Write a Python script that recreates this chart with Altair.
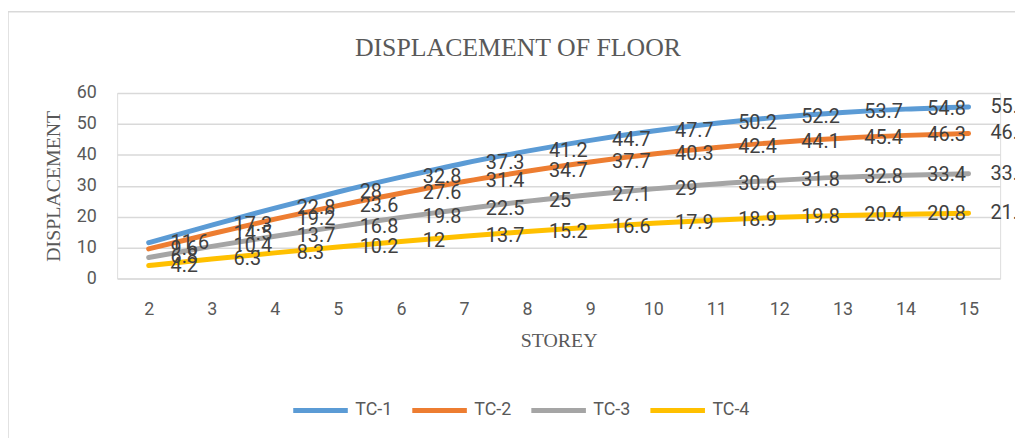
import altair as alt
import pandas as pd

storeys = [2, 3, 4, 5, 6, 7, 8, 9, 10, 11, 12, 13, 14, 15]
tc1 = [11.6, 17.3, 22.8, 28, 32.8, 37.3, 41.2, 44.7, 47.7, 50.2, 52.2, 53.7, 54.8, 55.5]
tc2 = [9.6, 14.5, 19.2, 23.6, 27.6, 31.4, 34.7, 37.7, 40.3, 42.4, 44.1, 45.4, 46.3, 46.9]
tc3 = [6.8, 10.4, 13.7, 16.8, 19.8, 22.5, 25, 27.1, 29, 30.6, 31.8, 32.8, 33.4, 33.9]
tc4 = [4.2, 6.3, 8.3, 10.2, 12, 13.7, 15.2, 16.6, 17.9, 18.9, 19.8, 20.4, 20.8, 21.1]
series_names = ["TC-1", "TC-2", "TC-3", "TC-4"]
colors = ["#5B9BD5", "#ED7D31", "#A5A5A5", "#FFC000"]
y_ticks = [0, 10, 20, 30, 40, 50, 60]
chart_title = "DISPLACEMENT OF FLOOR"

rows = []
for name, vals in zip(series_names, [tc1, tc2, tc3, tc4]):
    for s, v in zip(storeys, vals):
        rows.append({"storey": s, "value": v, "series": name})
df = pd.DataFrame(rows)

W, H = 890, 187

x = alt.X(
    "storey:O",
    sort=storeys,
    scale=alt.Scale(type="point", padding=0.5),
    axis=alt.Axis(
        title="STOREY", labelAngle=0, ticks=False, domain=False, grid=False,
        labelPadding=22, labelFont="Roboto", labelFontSize=18, labelColor="#595959",
        titleFont="Liberation Serif", titleFontSize=20, titleFontWeight="normal",
        titleColor="#595959", titleX=W / 2, titleY=62, titleBaseline="middle",
    ),
)
y = alt.Y(
    "value:Q",
    scale=alt.Scale(domain=[0, 60]),
    axis=alt.Axis(
        values=y_ticks, title="DISPLACEMENT", ticks=False, domain=False,
        grid=True, gridColor="#d9d9d9", gridWidth=1.5,
        labelPadding=21, labelFont="Roboto", labelFontSize=18, labelColor="#595959",
        titleFont="Liberation Serif", titleFontSize=20, titleFontWeight="normal",
        titleColor="#595959", titleAngle=270, titleX=-64, titleY=H / 2,
        titleBaseline="middle", titleAlign="center",
    ),
)

color = alt.Color(
    "series:N",
    scale=alt.Scale(domain=series_names, range=colors),
    legend=alt.Legend(
        orient="none", legendX=175, legendY=290, direction="horizontal",
        title=None, symbolType="stroke", symbolSize=3025, symbolStrokeWidth=5,
        labelFont="Roboto", labelFontSize=18, labelColor="#595959",
        labelOffset=5, columnPadding=9, padding=0,
    ),
)

frame = alt.Data(values=[{"t": chart_title}])

border = alt.Chart(frame).mark_rect(
    fill=None, stroke="#d9d9d9", strokeWidth=1.5
).encode(
    x=alt.value(-110), x2=alt.value(W + 40),
    y=alt.value(-82), y2=alt.value(H + 200),
)

title = alt.Chart(frame).mark_text(
    font="Liberation Serif", fontSize=26, color="#595959",
    align="center", baseline="middle",
).encode(x=alt.value(W / 2 - 41), y=alt.value(-45), text="t:N")

lines = alt.Chart(df).mark_line(
    strokeWidth=5, interpolate="monotone", strokeCap="round"
).encode(x=x, y=y, color=color)

labels = alt.Chart(df).mark_text(
    align="left", baseline="middle", dx=22, font="Roboto", fontSize=20,
    color="#404040",
).encode(x=x, y=y, text=alt.Text("value:Q"), detail="series:N")

chart = alt.layer(border, title, lines, labels).properties(
    width=W, height=H,
    padding={"left": 110, "top": 84, "right": 15, "bottom": 159},
    autosize="none",
).configure_view(stroke=None).configure(background="white")

chart.save("out.html", embed_options={"renderer": "svg", "actions": False})
